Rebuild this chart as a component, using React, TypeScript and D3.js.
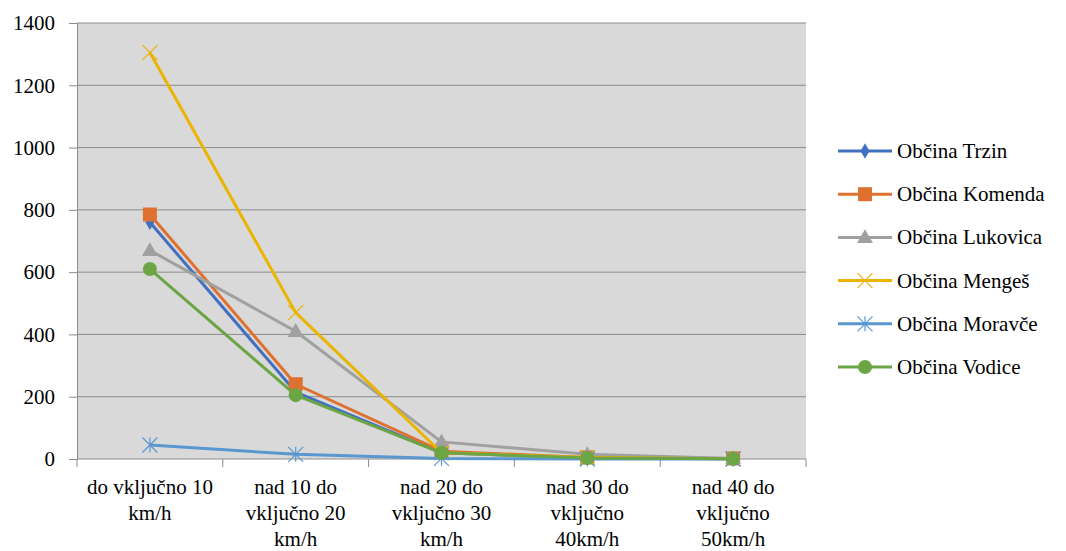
import { useEffect, useRef } from 'react'
import * as d3 from 'd3'

const categories = [
  ['do vključno 10', 'km/h'],
  ['nad 10 do', 'vključno 20', 'km/h'],
  ['nad 20 do', 'vključno 30', 'km/h'],
  ['nad 30 do', 'vključno', '40km/h'],
  ['nad 40 do', 'vključno', '50km/h'],
]
const yTicks = [0, 200, 400, 600, 800, 1000, 1200, 1400]

const trzin = [760, 215, 20, 3, 1]
const komenda = [785, 240, 25, 5, 2]
const lukovica = [670, 410, 55, 15, 2]
const menges = [1305, 470, 20, 5, 1]
const moravce = [45, 15, 2, 0, 0]
const vodice = [610, 205, 20, 3, 1]

const series = [
  { name: 'Občina Trzin', values: trzin, color: '#4170C0', marker: 'diamond' },
  { name: 'Občina Komenda', values: komenda, color: '#DF7130', marker: 'square' },
  { name: 'Občina Lukovica', values: lukovica, color: '#A0A0A0', marker: 'triangle' },
  { name: 'Občina Mengeš', values: menges, color: '#EBB400', marker: 'x' },
  { name: 'Občina Moravče', values: moravce, color: '#5A97D0', marker: 'star' },
  { name: 'Občina Vodice', values: vodice, color: '#6BA544', marker: 'circle' },
]

const W = 1066
const H = 551
const FONT = "'Liberation Serif', 'DejaVu Serif', 'Times New Roman', Times, serif"
const FS = 21

function drawMarker(g: any, type: string, color: string, x: number, y: number) {
  if (type === 'diamond') {
    g.append('path').attr('d', d3.symbol(d3.symbolDiamond, 70)()).attr('transform', `translate(${x},${y})`).attr('fill', color)
  } else if (type === 'square') {
    g.append('rect').attr('x', x - 7).attr('y', y - 7).attr('width', 14).attr('height', 14).attr('fill', color)
  } else if (type === 'triangle') {
    g.append('path').attr('d', d3.symbol(d3.symbolTriangle, 110)()).attr('transform', `translate(${x},${y + 1})`).attr('fill', color)
  } else if (type === 'circle') {
    g.append('circle').attr('cx', x).attr('cy', y).attr('r', 7).attr('fill', color)
  } else if (type === 'x') {
    const s = 7.5
    g.append('path').attr('d', `M${x - s},${y - s}L${x + s},${y + s}M${x - s},${y + s}L${x + s},${y - s}`)
      .attr('stroke', color).attr('stroke-width', 1.2).attr('fill', 'none')
  } else if (type === 'star') {
    const s = 7.5
    g.append('path').attr('d', `M${x - s},${y - s}L${x + s},${y + s}M${x - s},${y + s}L${x + s},${y - s}M${x},${y - s}L${x},${y + s}`)
      .attr('stroke', color).attr('stroke-width', 1.2).attr('fill', 'none')
  }
}

export default function App() {
  const ref = useRef<SVGSVGElement>(null)

  useEffect(() => {
    const svg = d3.select(ref.current)
    svg.selectAll('*').remove()

    const left = 77, right = 806, top = 23, bottom = 459

    const x = d3.scaleBand<number>()
      .domain(categories.map((_, i) => i))
      .range([left, right])
    const y = d3.scaleLinear().domain([0, 1400]).range([bottom, top])
    const cx = (i: number) => (x(i) as number) + x.bandwidth() / 2

    // Plot background
    svg.append('rect')
      .attr('x', left).attr('y', top)
      .attr('width', right - left).attr('height', bottom - top)
      .attr('fill', '#d9d9d9')

    // Grid lines
    svg.append('g')
      .selectAll('line')
      .data(yTicks.filter(t => t > 0))
      .enter().append('line')
      .attr('x1', left).attr('x2', right)
      .attr('y1', d => y(d)).attr('y2', d => y(d))
      .attr('stroke', '#8c8c8c').attr('stroke-width', 1)

    // Y axis
    const yAxis = svg.append('g')
      .attr('transform', `translate(${left},0)`)
      .call(d3.axisLeft(y).tickValues(yTicks).tickSize(8).tickPadding(14).tickFormat(d3.format('d')))
    yAxis.select('.domain').attr('stroke', '#8c8c8c')
    yAxis.selectAll('line').attr('stroke', '#8c8c8c')
    yAxis.selectAll('text').style('font-family', FONT).attr('font-size', FS).attr('fill', '#000')

    // X axis
    const xAxis = svg.append('g').attr('transform', `translate(0,${bottom})`)
    xAxis.append('line').attr('x1', left).attr('x2', right).attr('stroke', '#8c8c8c')
    const bounds = [...categories.map((_, i) => x(i) as number), right]
    xAxis.selectAll('line.tick')
      .data(bounds)
      .enter().append('line')
      .attr('class', 'tick')
      .attr('x1', d => d).attr('x2', d => d)
      .attr('y1', 0).attr('y2', 8)
      .attr('stroke', '#8c8c8c')
    categories.forEach((lines, i) => {
      const t = xAxis.append('text')
        .attr('x', cx(i))
        .attr('y', 35)
        .attr('text-anchor', 'middle')
        .style('font-family', FONT).attr('font-size', FS).attr('fill', '#000')
      lines.forEach((l, j) => {
        t.append('tspan').attr('x', cx(i)).attr('dy', j === 0 ? 0 : 26).text(l)
      })
    })

    // Lines
    const line = d3.line<number>()
      .x((_, i) => cx(i))
      .y(d => y(d))

    series.forEach(s => {
      const g = svg.append('g')
      g.append('path')
        .datum(s.values)
        .attr('fill', 'none')
        .attr('stroke', s.color)
        .attr('stroke-width', 3)
        .attr('stroke-linejoin', 'round')
        .attr('d', line)
      s.values.forEach((v, i) => drawMarker(g, s.marker, s.color, cx(i), y(v)))
    })

    // Legend
    const legend = svg.append('g')
    series.forEach((s, i) => {
      const ly = 151 + i * 43.2
      const g = legend.append('g')
      g.append('line').attr('x1', 838).attr('x2', 892).attr('y1', ly).attr('y2', ly)
        .attr('stroke', s.color).attr('stroke-width', 3)
      drawMarker(g, s.marker, s.color, 865, ly)
      g.append('text').attr('x', 897).attr('y', ly + 7)
        .style('font-family', FONT).attr('font-size', FS).attr('fill', '#000')
        .text(s.name)
    })
  }, [])

  return (
    <svg ref={ref} width={W} height={H} style={{ position: 'absolute', left: 0, top: 0, background: '#fff', fontFamily: FONT }} />
  )
}
